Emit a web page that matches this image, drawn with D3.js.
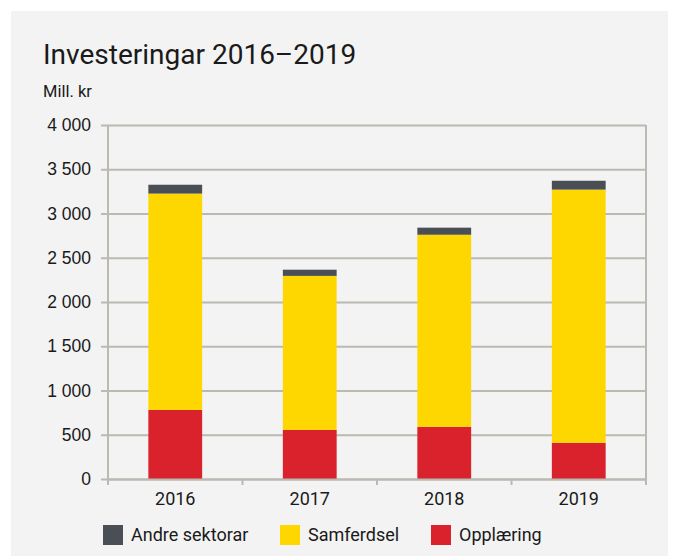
<!DOCTYPE html>
<html>
<head>
<meta charset="utf-8">
<script src="https://cdn.jsdelivr.net/npm/d3@7"></script>
<style>
	body { margin: 0; background: #ffffff; }
	svg { display: block; }
</style>
</head>
<body>
<div id="viz"></div>
<script>
"use strict";

var years = ["2016", "2017", "2018", "2019"];
var opplaering = [780, 555, 590, 410];
var samferdsel = [2445, 1740, 2170, 2860];
var andreSektorar = [100, 70, 80, 100];
var seriesNames = ["Andre sektorar", "Samferdsel", "Opplæring"];
var seriesColors = ["#4a4f55", "#ffd700", "#d9222b"];
var yTicks = [0, 500, 1000, 1500, 2000, 2500, 3000, 3500, 4000];

var width = 675,
	height = 556,
	margin = {left: 108, right: 29, top: 125, bottom: 77},
	gridColor = "#bcb8b2";

// build stack rows from the arrays
var rows = years.map(function(year, i) {
	return {
		year: year,
		"Opplæring": opplaering[i],
		"Samferdsel": samferdsel[i],
		"Andre sektorar": andreSektorar[i]
	}
})

var stack = d3.stack()
	.keys(["Opplæring", "Samferdsel", "Andre sektorar"])
var layers = stack(rows)

var colorOf = d3.scaleOrdinal()
	.domain(seriesNames)
	.range(seriesColors)

var x = d3.scaleBand()
	.domain(years)
	.range([margin.left, width - margin.right])
	.paddingInner(0.6)
	.paddingOuter(0.3)

var xEdges = d3.scaleBand()
	.domain(years)
	.range([margin.left, width - margin.right])

var y = d3.scaleLinear()
	.domain([0, 4000])
	.range([height - margin.bottom, margin.top])

var svg = d3.select("#viz")
	.append("svg")
	.attr("width", width)
	.attr("height", height)

// grey panel
svg.append("rect")
	.attr("x", 11)
	.attr("y", 11)
	.attr("width", 657)
	.attr("height", height)
	.attr("fill", "#f3f3f3")

svg.append("text")
	.attr("x", 43)
	.attr("y", 64)
	.attr("font-family", "Roboto, sans-serif")
	.attr("font-size", "28px")
	.attr("fill", "#1a1a1a")
	.text("Investeringar 2016–2019")

svg.append("text")
	.attr("x", 43)
	.attr("y", 97)
	.attr("font-family", "Roboto, sans-serif")
	.attr("font-size", "16.5px")
	.attr("fill", "#1a1a1a")
	.text("Mill. kr")

// y axis with gridlines
var yAxis = svg.append("g")
	.attr("transform", "translate(" + margin.left + ",0)")
	.call(d3.axisLeft(y)
		.tickValues(yTicks)
		.tickSize(-(width - margin.left - margin.right))
		.tickPadding(17)
		.tickFormat(function(d) { return d3.format(",")(d).replace(",", " ") }))

yAxis.select(".domain").remove()
yAxis.selectAll(".tick line")
	.attr("x1", -7)
	.attr("stroke", gridColor)
	.attr("stroke-width", 2)
yAxis.selectAll(".tick text")
	.attr("font-family", "'Liberation Sans', Arial, sans-serif")
	.attr("font-size", "17.5px")
	.attr("fill", "#1a1a1a")

// vertical frame lines
svg.selectAll("line.frame")
	.data([margin.left, width - margin.right])
	.enter()
	.append("line")
	.attr("class", "frame")
	.attr("x1", function(d) { return d })
	.attr("x2", function(d) { return d })
	.attr("y1", margin.top)
	.attr("y2", height - margin.bottom + 6)
	.attr("stroke", gridColor)
	.attr("stroke-width", 2)

// bars
svg.append("g")
	.selectAll("g")
	.data(layers)
	.enter()
	.append("g")
	.attr("fill", function(d) { return colorOf(d.key) })
	.selectAll("rect")
	.data(function(d) { return d })
	.enter()
	.append("rect")
	.attr("x", function(d) { return x(d.data.year) })
	.attr("y", function(d) { return y(d[1]) })
	.attr("width", x.bandwidth())
	.attr("height", function(d) { return y(d[0]) - y(d[1]) })

// x axis
var xAxis = svg.append("g")
	.attr("transform", "translate(0," + y(0) + ")")
	.call(d3.axisBottom(x).tickSize(0).tickPadding(13))

xAxis.select(".domain")
	.attr("stroke", gridColor)
	.attr("stroke-width", 2)
xAxis.selectAll(".tick text")
	.attr("font-family", "Roboto, sans-serif")
	.attr("font-size", "18px")
	.attr("fill", "#1a1a1a")

xAxis.selectAll("line.edge")
	.data(years.slice(1))
	.enter()
	.append("line")
	.attr("class", "edge")
	.attr("x1", function(d) { return xEdges(d) })
	.attr("x2", function(d) { return xEdges(d) })
	.attr("y1", 0)
	.attr("y2", 6)
	.attr("stroke", gridColor)
	.attr("stroke-width", 2)

// legend
var legendX = [103, 280, 431]
var legend = svg.append("g")
	.selectAll("g")
	.data(seriesNames)
	.enter()
	.append("g")
	.attr("transform", function(d, i) { return "translate(" + legendX[i] + ",525)" })

legend.append("rect")
	.attr("width", 20)
	.attr("height", 20)
	.attr("fill", function(d) { return colorOf(d) })

legend.append("text")
	.attr("x", 28)
	.attr("y", 16)
	.attr("font-family", "Roboto, sans-serif")
	.attr("font-size", "18px")
	.attr("fill", "#1a1a1a")
	.text(function(d) { return d })
</script>
</body>
</html>
